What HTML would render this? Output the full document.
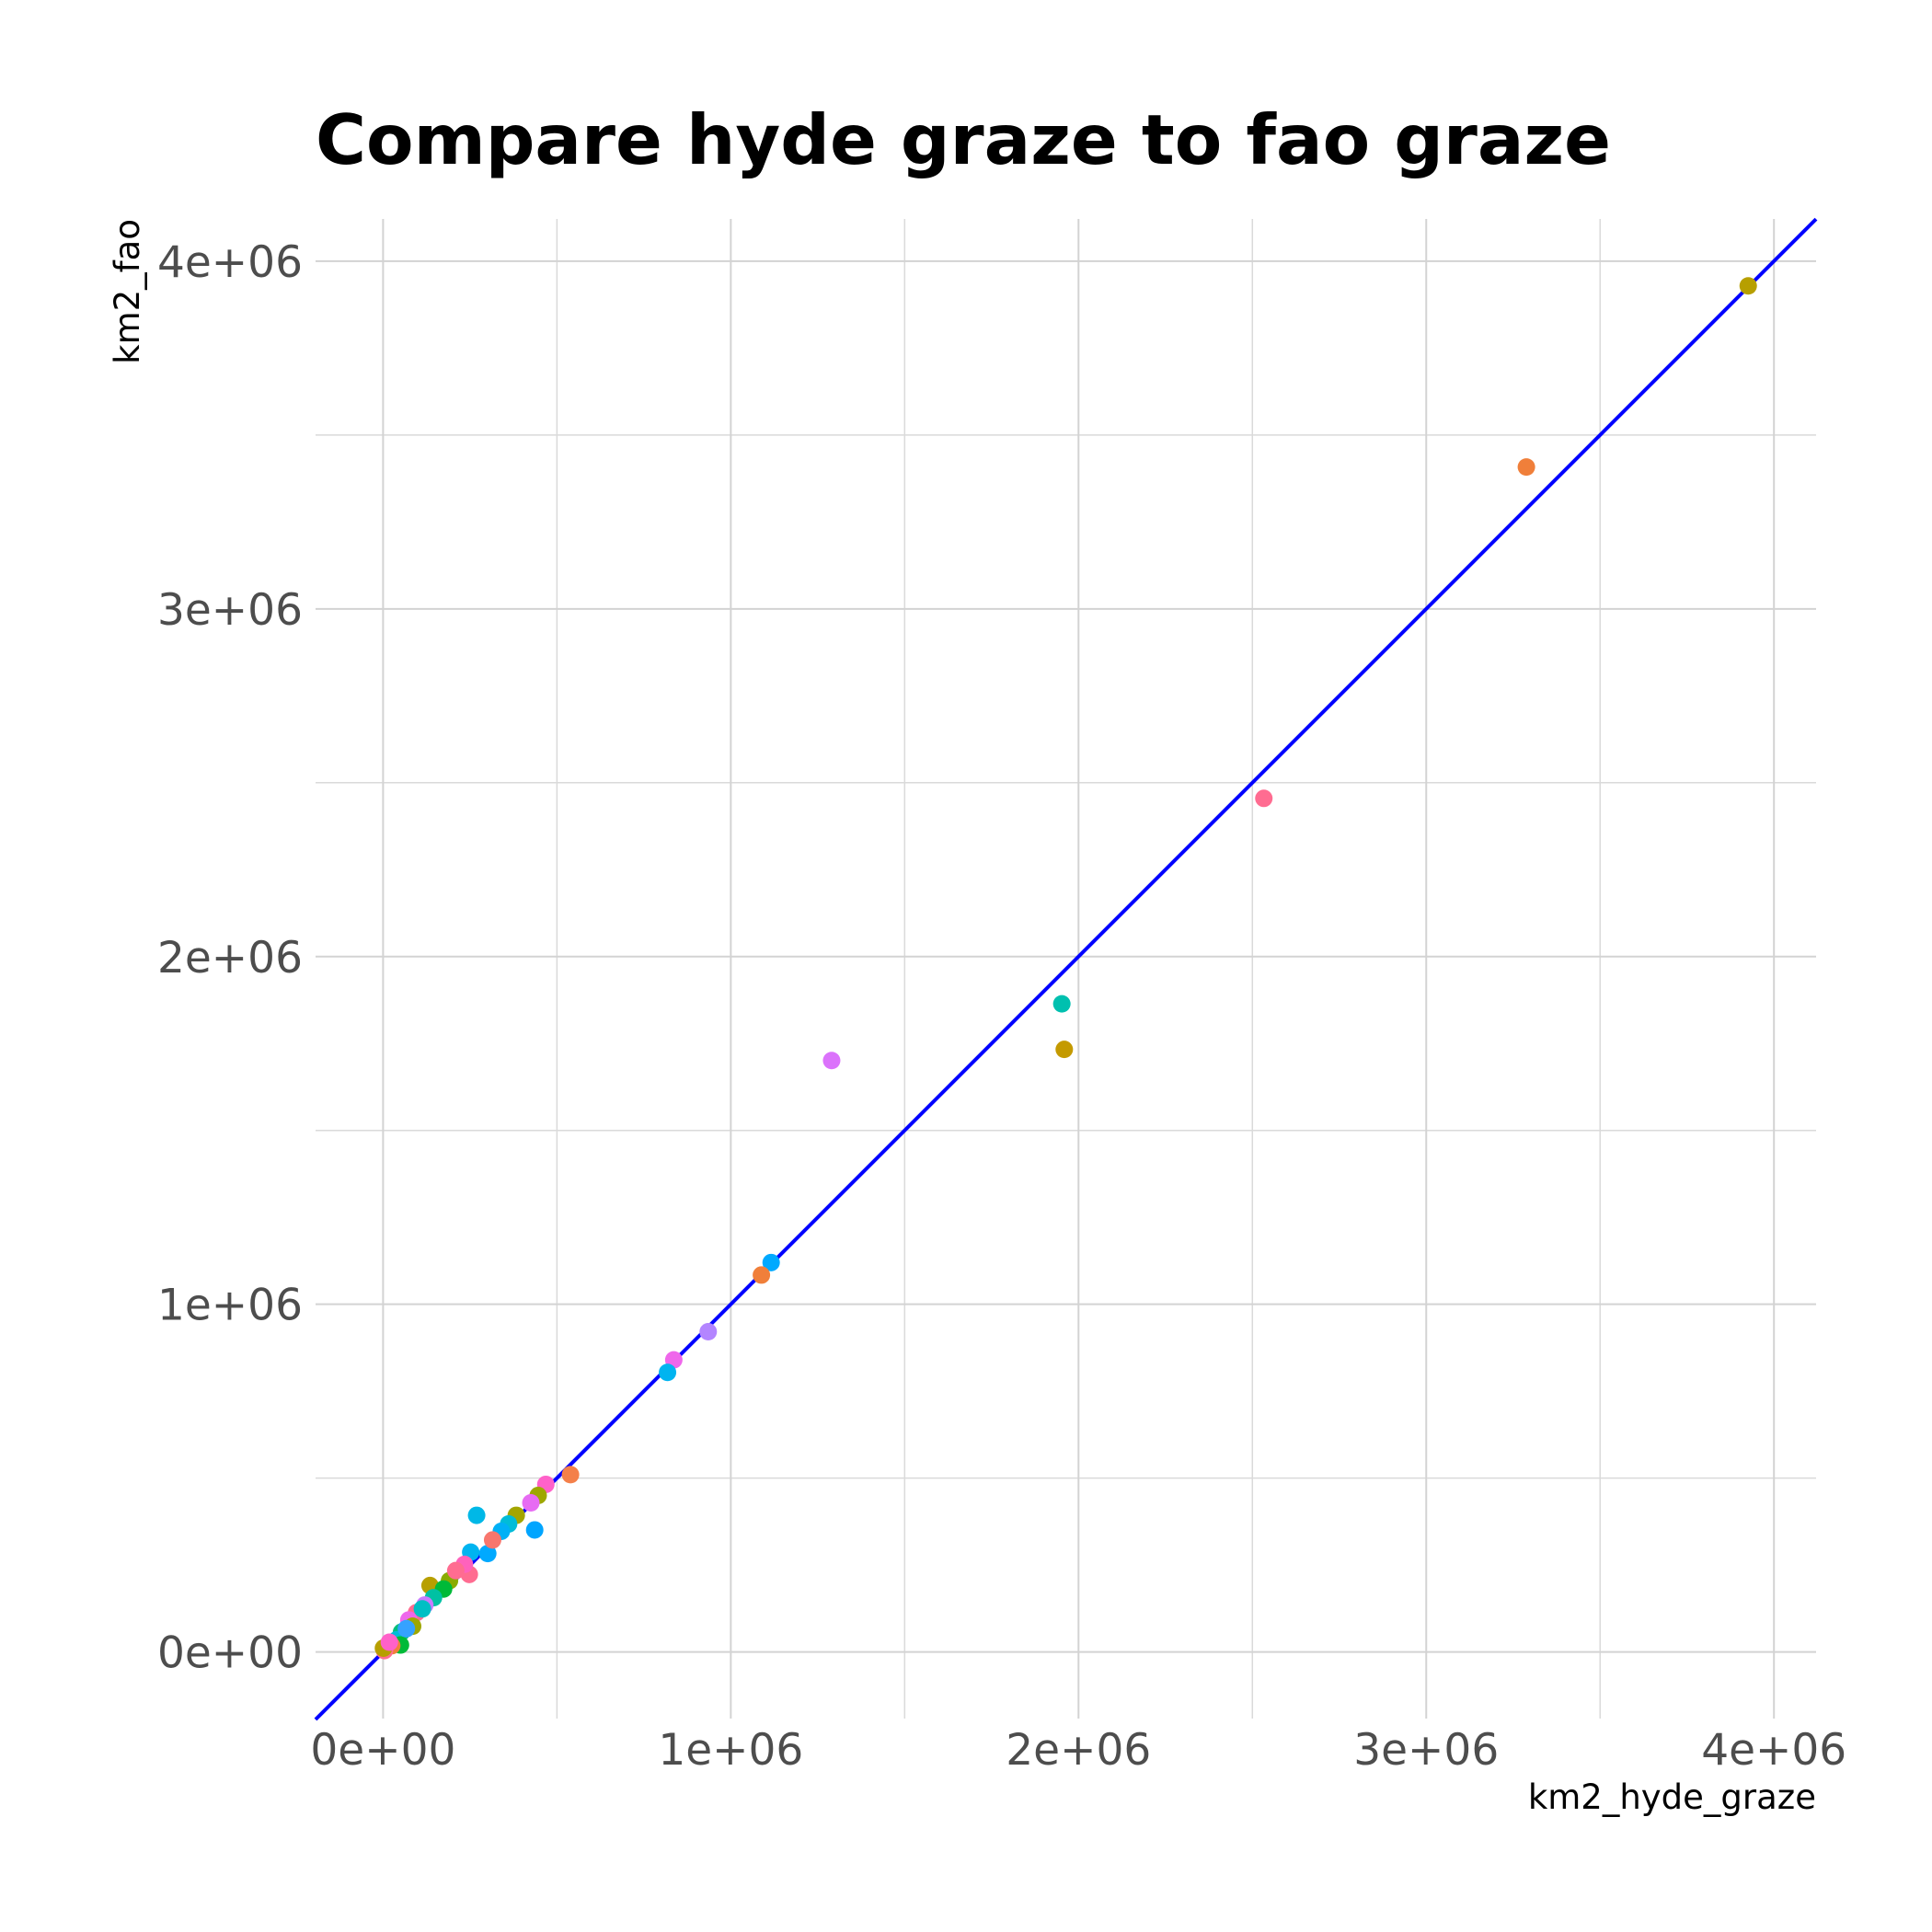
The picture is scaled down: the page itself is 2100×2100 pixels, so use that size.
<!DOCTYPE html>
<html><head><meta charset="utf-8"><style>
html,body{margin:0;padding:0;background:#fff}
svg{display:block;font-family:"DejaVu Sans","Liberation Sans",sans-serif}
</style></head><body>
<svg id="chart" width="2100" height="2100" viewBox="0 0 2100 2100">
<rect width="2100" height="2100" fill="#fff"/>
<text x="343" y="178" font-size="75" font-weight="bold" fill="#000">Compare hyde graze to fao graze</text>
<g id="grid"></g>
<g id="ticks"></g>
<g id="refline"></g>
<g id="points"></g>
<text x="1974" y="1966" font-size="37" text-anchor="end" fill="#000">km2_hyde_graze</text>
<text transform="translate(151,238) rotate(-90)" font-size="37" text-anchor="end" fill="#000">km2_fao</text>
</svg>
<script>
const xVals=[3.926,3.288,2.533,1.952,1.959,1.290,1.116,1.088,0.935,0.836,0.818,0.539,0.468,0.446,0.425,0.269,0.436,0.383,0.361,0.340,0.301,0.252,0.315,0.248,0.234,0.135,0.191,0.174,0.145,0.120,0.096,0.074,0.085,0.053,0.039,0.050,0.025,0.004,0.001,0.018,0.067,0.209,0.113];
const yVals=[3.929,3.408,2.455,1.864,1.733,1.701,1.120,1.084,0.921,0.840,0.804,0.510,0.482,0.450,0.429,0.393,0.351,0.393,0.368,0.347,0.283,0.287,0.322,0.223,0.252,0.191,0.205,0.181,0.156,0.135,0.113,0.092,0.074,0.057,0.035,0.020,0.018,0.004,0.011,0.028,0.067,0.234,0.124];
const pointColors=["#B79F00","#F07F3A","#FF6C91","#00C0AF","#C49A00","#DB72FB","#00A9FF","#F07F3A","#B385FF","#EF67EB","#00B4F0","#F4804A","#FF61C9","#9EA700","#E76BF3","#00B8E7","#00A5FF","#A3A500","#00BCD8","#00B0F6","#00A9FF","#00B4F0","#F8766D","#FF6C91","#FF62BC","#B79F00","#8AAB00","#00BA38","#00C1A3","#C77CFF","#FF6C91","#EF67EB","#9EA700","#00BF7D","#00BCD8","#00BA38","#F07F3A","#FF6C91","#B79F00","#FF61C9","#35A2FF","#FF6C91","#00BFC4"];
const xTicks=[0,1,2,3,4];
const yTicks=[0,1,2,3,4];
const tickLabels=["0e+00","1e+06","2e+06","3e+06","4e+06"];
const minorTicks=[0.5,1.5,2.5,3.5];

const NS="http://www.w3.org/2000/svg";
const L=343,R=1974,T=238,B=1868;
const sx=v=>416.4+v*(1928.2-416.4)/4;
const sy=v=>1795.6-v*(1795.6-283.9)/4;
function mk(tag,attrs,parent){const e=document.createElementNS(NS,tag);for(const k in attrs)e.setAttribute(k,attrs[k]);parent.appendChild(e);return e;}
const grid=document.getElementById('grid');
minorTicks.forEach(v=>{
  const a=mk('line',{x1:sx(v),x2:sx(v),y1:T,y2:B,stroke:'#dadada','stroke-width':1.5},grid);
  
  
  const b=mk('line',{x1:L,x2:R,y1:sy(v),y2:sy(v),stroke:'#dadada','stroke-width':1.5},grid);
  
  
});
const ticks=document.getElementById('ticks');
xTicks.forEach((v,i)=>{
  const a=mk('line',{x1:sx(v),x2:sx(v),y1:T,y2:B,stroke:'#d3d3d3','stroke-width':2},grid);
  
  
  const t=mk('text',{x:sx(v),y:1918,'font-size':47,'text-anchor':'middle',fill:'#4d4d4d'},ticks);
  t.textContent=tickLabels[i];
  
  
});
yTicks.forEach((v,i)=>{
  const a=mk('line',{x1:L,x2:R,y1:sy(v),y2:sy(v),stroke:'#d3d3d3','stroke-width':2},grid);
  
  
  const t=mk('text',{x:329,y:sy(v)+17,'font-size':47,'text-anchor':'end',fill:'#4d4d4d'},ticks);
  t.textContent=tickLabels[i];
  
  
});
const pts=document.getElementById('points');
xVals.forEach((v,i)=>{
  const c=mk('circle',{cx:sx(v),cy:sy(yVals[i]),r:9.5,fill:pointColors[i%pointColors.length]},pts);
  
  
});
const inv=p=>(p-416.4)*4/(1928.2-416.4);
const xa=inv(L), xb=inv(R);
const ln=mk('line',{x1:L,y1:sy(xa),x2:R,y2:sy(xb),stroke:'#0000ff','stroke-width':4},document.getElementById('refline'));


</script>
</body></html>
